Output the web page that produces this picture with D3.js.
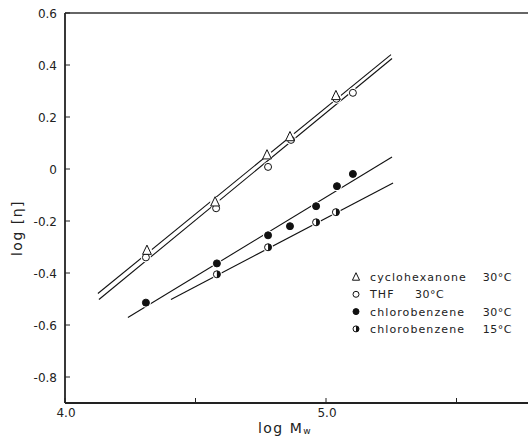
<!DOCTYPE html>
<html><head><meta charset="utf-8">
<script src="https://cdn.jsdelivr.net/npm/d3@7"></script>
<style>body{margin:0;background:#fff}svg{display:block}text{font-family:"DejaVu Sans",sans-serif;fill:#222}</style>
</head><body>
<svg id="c" width="528" height="437"></svg>
<script>
// data: [log Mw, log [eta]]
const cyclohexanone30 = [[4.314,-0.313],[4.575,-0.127],[4.774,0.054],[4.862,0.124],[5.038,0.282]];
const thf30 = [[4.310,-0.340],[4.579,-0.151],[4.778,0.008],[4.866,0.112],[5.040,0.270],[5.103,0.293]];
const chloro30 = [[4.310,-0.514],[4.582,-0.363],[4.778,-0.255],[4.862,-0.220],[4.962,-0.143],[5.042,-0.066],[5.103,-0.019]];
const chloro15 = [[4.582,-0.405],[4.778,-0.301],[4.962,-0.205],[5.038,-0.166]];
// fitted lines (endpoints)
const fitCyclo = [[4.126,-0.479],[5.249,0.440]];
const fitTHF = [[4.130,-0.502],[5.253,0.425]];
const fitChloro30 = [[4.241,-0.571],[5.253,0.046]];
const fitChloro15 = [[4.406,-0.502],[5.257,-0.054]];
const yTicks = [0.6,0.4,0.2,0,-0.2,-0.4,-0.6,-0.8];
const xTicks = [4.0,4.5,5.0,5.5];
const xLabels = {"4":"4.0","5":"5.0"};
const yLabels = ["0.6","0.4","0.2","0","-0.2","-0.4","-0.6","-0.8"];
const legendItems = [["tri","cyclohexanone","30°C"],["open","THF","30°C"],["filled","chlorobenzene","30°C"],["half","chlorobenzene","15°C"]];

const svg = d3.select("#c");
const x = d3.scaleLinear().domain([4,5]).range([65,326]);
const y = d3.scaleLinear().domain([0,0.6]).range([169,13]);
const xMax = x.invert(528), yMin = -0.9;

// frame
const g = svg.append("g");
g.append("line").attr("x1",x(4)).attr("x2",x(xMax)).attr("y1",y(0.6)).attr("y2",y(0.6)).attr("stroke","#333").attr("stroke-width",1.6);
g.append("line").attr("x1",x(4)).attr("x2",x(xMax)).attr("y1",y(yMin)).attr("y2",y(yMin)).attr("stroke","#222").attr("stroke-width",1.8);
g.append("line").attr("x1",x(4)).attr("x2",x(4)).attr("y1",y(0.6)).attr("y2",y(yMin)).attr("stroke","#222").attr("stroke-width",1.8);

// y ticks
yTicks.forEach((t,i)=>{
  g.append("line").attr("x1",x(4)).attr("x2",x(4)+5).attr("y1",y(t)).attr("y2",y(t)).attr("stroke","#222").attr("stroke-width",1);
  g.append("text").attr("x",x(4)-8).attr("y",y(t)+4.5).attr("text-anchor","end").attr("font-size",12).text(yLabels[i]);
});
// x ticks
xTicks.forEach(t=>{
  g.append("line").attr("x1",x(t)).attr("x2",x(t)).attr("y1",y(yMin)).attr("y2",y(yMin)-5).attr("stroke","#222").attr("stroke-width",1);
  const lab = xLabels[String(t)];
  if(lab) g.append("text").attr("x",x(t)+1).attr("y",417).attr("text-anchor","middle").attr("font-size",12).text(lab);
});

// axis titles
const xt = svg.append("text").attr("x",285).attr("y",433).attr("text-anchor","middle").attr("font-size",14).attr("letter-spacing",1.5);
xt.append("tspan").text("log M");
xt.append("tspan").attr("font-size",9).attr("dy",1).text("w");
svg.append("text").attr("transform","translate(22,228) rotate(-90)").attr("text-anchor","middle").attr("font-size",14).attr("letter-spacing",1.5).text("log [η]");

// fit lines
const line = d3.line().x(d=>x(d[0])).y(d=>y(d[1]));
[fitCyclo,fitTHF,fitChloro30,fitChloro15].forEach(f=>{
  svg.append("path").attr("d",line(f)).attr("fill","none").attr("stroke","#111").attr("stroke-width",1.1);
});

// markers
function marker(sel,type,cx,cy,s){
  if(type==="tri"){
    const h=s*1.1;
    sel.append("path").attr("d",`M${cx},${cy-h*0.6}L${cx+s*0.55},${cy+h*0.45}L${cx-s*0.55},${cy+h*0.45}Z`).attr("fill","#fff").attr("stroke","#111").attr("stroke-width",1);
  } else if(type==="open"){
    sel.append("circle").attr("cx",cx).attr("cy",cy).attr("r",s/2).attr("fill","#fff").attr("stroke","#111").attr("stroke-width",1);
  } else if(type==="filled"){
    sel.append("circle").attr("cx",cx).attr("cy",cy).attr("r",s/2).attr("fill","#111").attr("stroke","#111").attr("stroke-width",1);
  } else {
    const r=s/2;
    sel.append("circle").attr("cx",cx).attr("cy",cy).attr("r",r).attr("fill","#fff").attr("stroke","#111").attr("stroke-width",1);
    sel.append("path").attr("d",`M${cx},${cy-r}A${r},${r} 0 0 1 ${cx},${cy+r}Z`).attr("fill","#111");
  }
}
const series = [[thf30,"open"],[cyclohexanone30,"tri"],[chloro30,"filled"],[chloro15,"half"]];
series.forEach(([data,type])=>{
  const gs = svg.append("g");
  data.forEach(d=>{
    gs.append("circle").attr("cx",x(d[0])).attr("cy",y(d[1])).attr("r",type==="tri"?5:5).attr("fill","#fff");
  });
});
series.forEach(([data,type])=>{
  const gs = svg.append("g");
  data.forEach(d=>marker(gs,type,x(d[0]),y(d[1]),type==="tri"?8:7));
});

// legend
const lg = svg.append("g");
legendItems.forEach((it,i)=>{
  const yy = 277 + i*17.3;
  marker(lg,it[0],356,yy,it[0]==="tri"?6.5:6);
  lg.append("text").attr("x",370).attr("y",yy+4).attr("font-size",11).attr("letter-spacing",1.1).text(it[1]);
  if(i===1) lg.append("text").attr("x",415).attr("y",yy+4).attr("font-size",11).attr("letter-spacing",0.5).text(it[2]);
  else lg.append("text").attr("x",512).attr("y",yy+4).attr("text-anchor","end").attr("font-size",11).attr("letter-spacing",0.5).text(it[2]);
});
</script>
</body></html>
